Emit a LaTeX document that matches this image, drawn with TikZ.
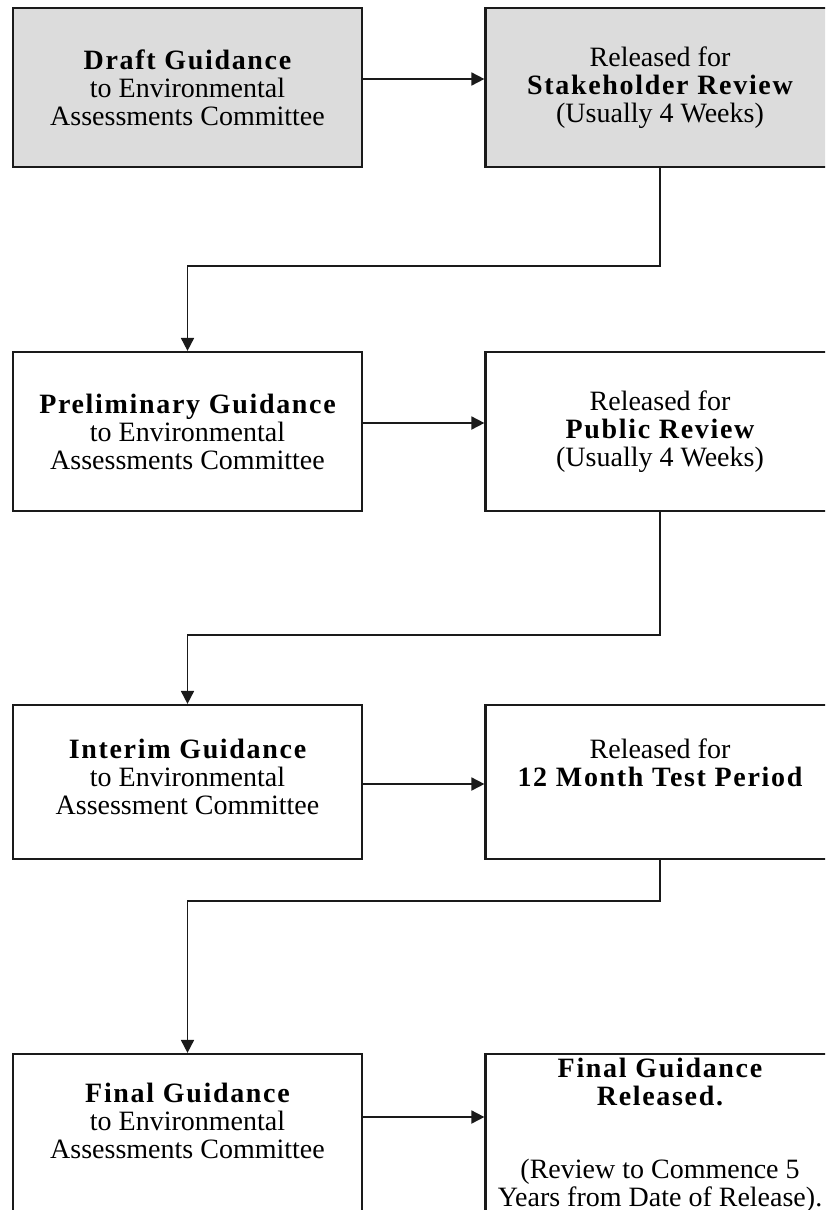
\documentclass[tikz,border=0pt]{standalone}
\usepackage{fontspec}
\setmainfont{Liberation Serif}
\newfontfamily\spacedserif[LetterSpace=6]{Liberation Serif}
\usepackage{tikz}
\usetikzlibrary{arrows.meta,positioning}
\usepackage{xcolor}
\definecolor{ink}{HTML}{1A1A1A}
\definecolor{panel}{HTML}{DCDCDC}
\newcommand{\stagekey}[1]{{\spacedserif\bfseries #1}}
\tikzset{stagebox/.style={draw=ink,line width=2.2pt,minimum width=349pt,inner sep=0pt,align=center,font=\fontsize{28}{28}\selectfont}, reviewbox/.style={stagebox,fill=panel}, flowarrow/.style={draw=ink,line width=1.8pt,-{Triangle[length=13pt,width=13pt]}}}

\begin{document}
\begin{tikzpicture}[x=1pt,y=-1pt]
\useasboundingbox (0,0) rectangle (825,1210);
\clip (0,0) rectangle (825,1210);
% draft stage
\node[reviewbox,minimum height=159pt] (draft) at (187.5,87.5) {\stagekey{Draft Guidance}\\to Environmental\\Assessments Committee};
\node[reviewbox,minimum height=159pt] (stake) at (660,87.5) {Released for\\\stagekey{Stakeholder Review}\\(Usually 4 Weeks)};
% preliminary stage
\node[stagebox,minimum height=159pt] (prelim) at (187.5,431.5) {\stagekey{Preliminary Guidance}\\to Environmental\\Assessments Committee};
\node[stagebox,minimum height=159pt] (public) at (660,431.5) {Released for\\\stagekey{Public Review}\\(Usually 4 Weeks)};
% interim stage
\node[stagebox,minimum height=154pt] (interim) at (187.5,782) {\stagekey{Interim Guidance}\\to Environmental\\Assessment Committee\\[-18pt]\mbox{}};
\node[stagebox,minimum height=154pt] (trial) at (660,782) {Released for\\\stagekey{12 Month Test Period}\\[10pt]\mbox{}};
% final stage
\node[stagebox,minimum height=162pt] (final) at (187.5,1135) {\stagekey{Final Guidance}\\to Environmental\\Assessments Committee\\\mbox{}};
\node[stagebox,minimum height=162pt] (release) at (660,1135) {\stagekey{Final Guidance}\\\stagekey{Released.}\\[45pt](Review to Commence 5\\Years from Date of Release).};
\draw[flowarrow] ([yshift=8.5pt]draft.east) -- ([yshift=8.5pt]stake.west);
\draw[flowarrow] ([yshift=8.5pt]prelim.east) -- ([yshift=8.5pt]public.west);
\draw[flowarrow] ([yshift=-2pt]interim.east) -- ([yshift=-2pt]trial.west);
\draw[flowarrow] ([yshift=18pt]final.east) -- ([yshift=18pt]release.west);
\draw[flowarrow] (stake.south) -- ++(0,98) -| (prelim.north);
\draw[flowarrow] (public.south) -- ++(0,123) -| (interim.north);
\draw[flowarrow] (trial.south) -- ++(0,41) -| (final.north);
\end{tikzpicture}
\end{document}
